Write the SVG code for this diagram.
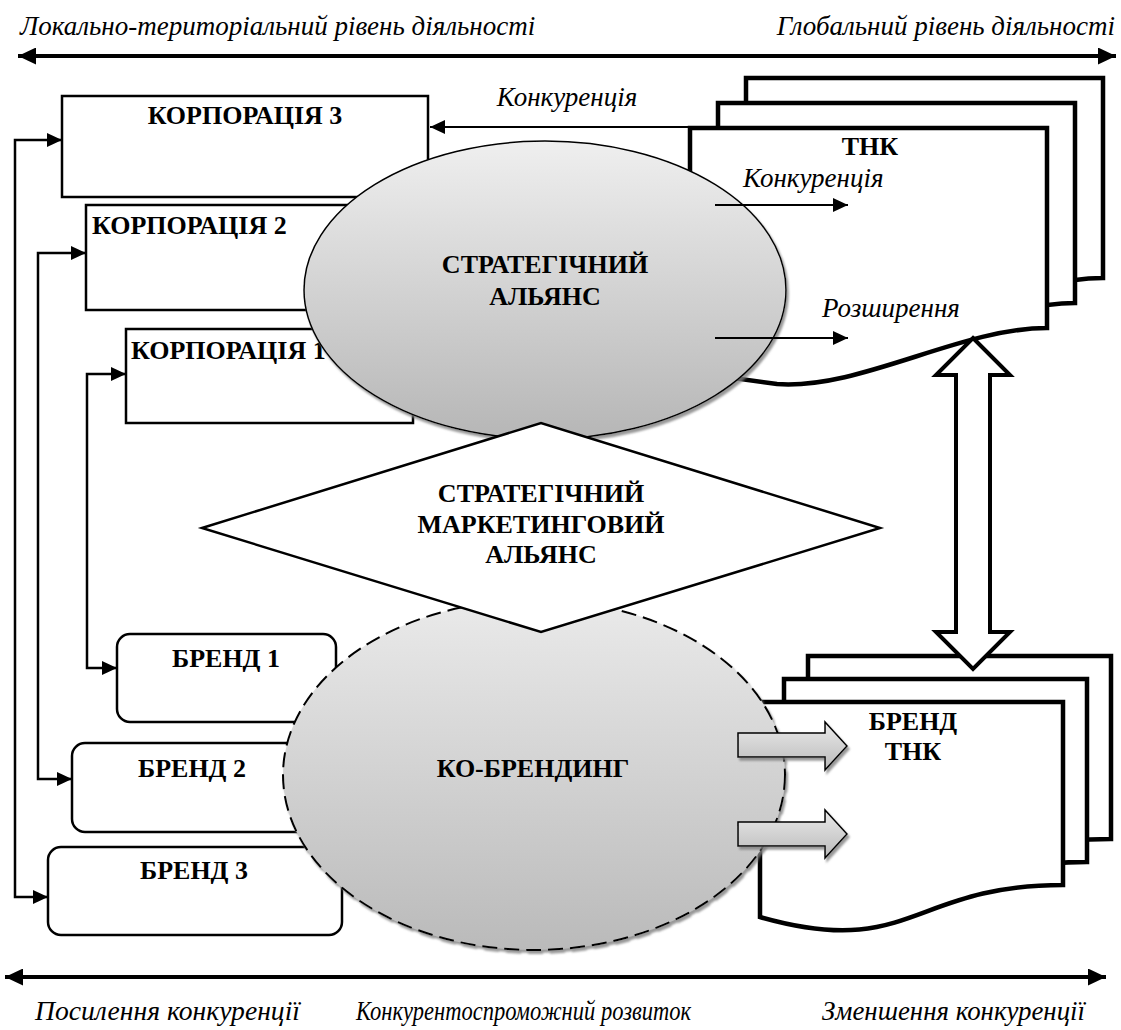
<svg xmlns="http://www.w3.org/2000/svg" width="1121" height="1030" viewBox="0 0 1121 1030">
<style>
.b{font-family:"Liberation Serif","Times New Roman","DejaVu Serif",serif;font-weight:bold;font-size:26px;fill:#000}
.i{font-family:"Liberation Serif","Times New Roman","DejaVu Serif",serif;font-style:italic;font-size:27px;fill:#000}
.c{text-anchor:middle}
.box{fill:#fff;stroke:#000;stroke-width:2.5}
.doc{fill:#fff;stroke:#000;stroke-width:4.5;stroke-linejoin:miter}
.ln{fill:none;stroke:#000;stroke-width:2.5}
.thin{fill:none;stroke:#000;stroke-width:2}
.axis{fill:none;stroke:#000;stroke-width:4}
</style>
<defs>
<marker id="ah" viewBox="0 0 15 14" refX="15" refY="7" markerWidth="15" markerHeight="14" markerUnits="userSpaceOnUse" orient="auto-start-reverse"><path d="M0,0 L15,7 L0,14 z" fill="#000"/></marker>
<marker id="ax" viewBox="0 0 18 17" refX="18" refY="8.5" markerWidth="18" markerHeight="17" markerUnits="userSpaceOnUse" orient="auto-start-reverse"><path d="M0,0 L18,8.5 L0,17 z" fill="#000"/></marker>
<linearGradient id="g1" x1="0" y1="0" x2="0" y2="1"><stop offset="0" stop-color="#efefef"/><stop offset="1" stop-color="#b6b6b6"/></linearGradient>
<linearGradient id="g2" x1="0" y1="0" x2="0" y2="1"><stop offset="0" stop-color="#eaeaea"/><stop offset="1" stop-color="#bababa"/></linearGradient>
<filter id="sh" x="-10%" y="-10%" width="130%" height="130%"><feDropShadow dx="2" dy="3" stdDeviation="1" flood-color="#7f7f7f" flood-opacity="0.8"/></filter>
</defs>

<g id="axis-top">
<line class="axis" x1="18" y1="56" x2="1116" y2="56" marker-start="url(#ax)" marker-end="url(#ax)"/>
<text class="i" x="20" y="35">Локально-територіальний рівень діяльності</text>
<text class="i" x="1115" y="35" text-anchor="end">Глобальний рівень діяльності</text>
</g>
<g id="axis-bottom">
<line class="axis" x1="5" y1="977" x2="1106" y2="977" marker-start="url(#ax)" marker-end="url(#ax)"/>
<text class="i" x="35" y="1020" textLength="265" lengthAdjust="spacingAndGlyphs">Посилення конкуренції</text>
<text class="i" x="356" y="1020" textLength="335" lengthAdjust="spacingAndGlyphs">Конкурентоспроможний розвиток</text>
<text class="i" x="822" y="1020" textLength="263" lengthAdjust="spacingAndGlyphs">Зменшення конкуренції</text>
</g>

<g id="corp3"><rect class="box" x="62" y="96" width="366" height="101"/><text class="b c" x="245" y="124">КОРПОРАЦІЯ 3</text></g>
<g id="corp2"><rect class="box" x="86" y="205" width="314" height="105"/><text class="b" x="92" y="234">КОРПОРАЦІЯ 2</text></g>
<g id="corp1"><rect class="box" x="126" y="329" width="287" height="94"/><text class="b" x="131" y="359">КОРПОРАЦІЯ 1</text></g>

<g id="tnk">
<path class="doc" d="M746,78 H1103 V278 C1016,278 916,340 833,334 L746,322 Z"/>
<path class="doc" d="M718,103 H1075 V303 C988,303 888,365 805,359 L718,347 Z"/>
<path class="doc" d="M690,128 H1047 V328 C960,328 860,390 777,384 L690,372 Z"/>
<text class="b c" x="870" y="155">ТНК</text>
</g>

<g id="connectors-top">
<line class="thin" x1="690" y1="127" x2="430" y2="127" marker-end="url(#ah)"/>
<text class="i c" x="567" y="106">Конкуренція</text>
</g>

<g id="alliance">
<ellipse cx="545" cy="290" rx="241" ry="149" fill="url(#g1)" stroke="#000" stroke-width="1.5" filter="url(#sh)"/>
<text class="b c" x="545" y="273">СТРАТЕГІЧНИЙ</text>
<text class="b c" x="545" y="305">АЛЬЯНС</text>
</g>

<g id="connectors-tnk">
<line class="thin" x1="715" y1="205" x2="848" y2="205" marker-end="url(#ah)"/>
<text class="i" x="743" y="187">Конкуренція</text>
<line class="thin" x1="715" y1="338" x2="848" y2="338" marker-end="url(#ah)"/>
<text class="i" x="822" y="317">Розширення</text>
</g>

<g id="brand1"><rect class="box" x="117" y="634" width="219" height="88" rx="13" stroke-width="2"/><text class="b c" x="226" y="667">БРЕНД 1</text></g>
<g id="brand2"><rect class="box" x="72" y="743" width="258" height="89" rx="13" stroke-width="2"/><text class="b c" x="192" y="777">БРЕНД 2</text></g>
<g id="brand3"><rect class="box" x="48" y="847" width="294" height="88" rx="13" stroke-width="2"/><text class="b c" x="194" y="879">БРЕНД 3</text></g>

<g id="brand-tnk">
<path class="doc" d="M808,656 H1111 V839 C959,839 959,908 808,869 Z"/>
<path class="doc" d="M784,679 H1087 V862 C935,862 935,931 784,892 Z"/>
<path class="doc" d="M760,702 H1063 V885 C911,885 911,960 760,917 Z"/>
<text class="b c" x="913" y="730">БРЕНД</text>
<text class="b c" x="913" y="760">ТНК</text>
</g>

<g id="cobranding">
<ellipse cx="534" cy="775" rx="251" ry="175" fill="url(#g2)" stroke="#000" stroke-width="2" stroke-dasharray="15,7" filter="url(#sh)"/>
<text class="b c" x="533" y="777">КО-БРЕНДИНГ</text>
</g>

<g id="block-arrows" fill="url(#g2)" stroke="#000" stroke-width="1.5" filter="url(#sh)">
<path d="M738,733 H825 V722 L847,746 L825,770 V757 H738 Z"/>
<path d="M738,822 H825 V810 L847,834 L825,858 V846 H738 Z"/>
</g>

<g id="marketing-alliance">
<path d="M202,528 L541,423 L880,528 L541,632 Z" fill="#fff" stroke="#000" stroke-width="2.5"/>
<text class="b c" x="541" y="502">СТРАТЕГІЧНИЙ</text>
<text class="b c" x="541" y="533">МАРКЕТИНГОВИЙ</text>
<text class="b c" x="541" y="563">АЛЬЯНС</text>
</g>

<g id="connectors">
<path d="M973,338 L1010,375 L990,375 L990,632 L1010,632 L973,669 L936,632 L956,632 L956,375 L936,375 Z" fill="#fff" stroke="#000" stroke-width="4"/>
<polyline class="ln" points="62,140 15,140 15,897 48,897" marker-start="url(#ah)" marker-end="url(#ah)"/>
<polyline class="ln" points="86,253 38,253 38,779 72,779" marker-start="url(#ah)" marker-end="url(#ah)"/>
<polyline class="ln" points="126,374 87,374 87,668 117,668" marker-start="url(#ah)" marker-end="url(#ah)"/>
</g>
</svg>
